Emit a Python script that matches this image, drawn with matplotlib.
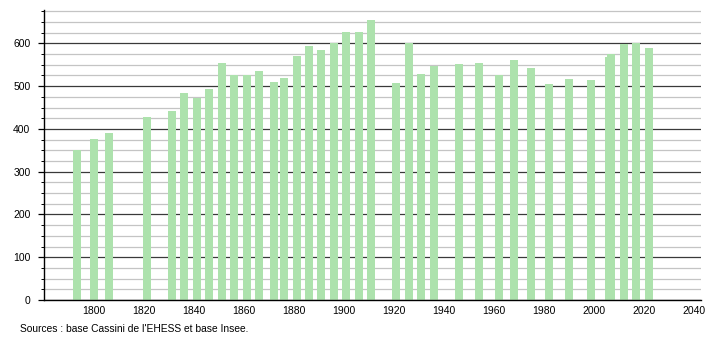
import matplotlib
matplotlib.use("Agg")
import matplotlib.pyplot as plt
from matplotlib.ticker import MultipleLocator

years = [1793, 1800, 1806, 1821, 1831, 1836, 1841, 1846, 1851, 1856, 1861, 1866,
         1872, 1876, 1881, 1886, 1891, 1896, 1901, 1906, 1911, 1921, 1926, 1931,
         1936, 1946, 1954, 1962, 1968, 1975, 1982, 1990, 1999, 2006, 2007, 2012,
         2017, 2022]
population = [351, 376, 391, 427, 443, 484, 473, 494, 554, 526, 526, 536,
              510, 519, 571, 594, 585, 601, 626, 626, 654, 508, 601, 529,
              547, 552, 554, 525, 561, 543, 505, 517, 515, 569, 576, 599,
              602, 589]
x_ticks = [1800, 1820, 1840, 1860, 1880, 1900, 1920, 1940, 1960, 1980, 2000, 2020, 2040]
y_ticks = [0, 100, 200, 300, 400, 500, 600]
source_text = "Sources : base Cassini de l'EHESS et base Insee."

plt.rcParams['font.family'] = ['Liberation Sans', 'DejaVu Sans']

fig = plt.figure(figsize=(7.1, 3.4), dpi=100)
ax = fig.add_axes([0.0624, 0.1176, 0.925, 0.853])

ax.set_xlim(1780, 2043)
ax.set_ylim(0, 678)

ax.yaxis.set_major_locator(MultipleLocator(100))
ax.yaxis.set_minor_locator(MultipleLocator(25))
ax.set_yticks(y_ticks)
ax.set_xticks(x_ticks)

ax.grid(which='minor', axis='y', color='#c4c4c4', linewidth=0.9, zorder=0)
ax.grid(which='major', axis='y', color='#3a3a3a', linewidth=0.9, zorder=0)
ax.set_axisbelow(True)

ax.bar(years, population, width=3.2, color='#ade2ad', edgecolor='none', zorder=2)

for s in ['top', 'right']:
    ax.spines[s].set_visible(False)
ax.spines['left'].set_color('black')
ax.spines['bottom'].set_color('black')
ax.spines['left'].set_linewidth(1.0)
ax.spines['bottom'].set_linewidth(1.0)

ax.tick_params(axis='y', which='major', length=4, width=0.9, pad=6, labelsize=7.5, color='black')
ax.tick_params(axis='y', which='minor', length=2, width=0.7, color='black')
ax.tick_params(axis='x', which='major', length=0, pad=4.5, labelsize=7.5)

fig.text(20 / 710, 1 - 329 / 340, source_text, fontsize=7.4, ha='left', va='center')

fig.savefig("out.png", dpi=100)
